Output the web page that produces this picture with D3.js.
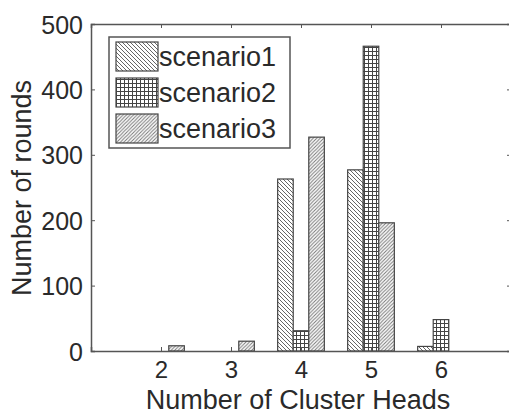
<!DOCTYPE html>
<html>
<head>
<meta charset="utf-8">
<script src="https://cdn.jsdelivr.net/npm/d3@7"></script>
<style>
body { margin: 0; background: #fff; }
svg text { font-family: "Liberation Sans", Arial, sans-serif; fill: #2a2a2a; }
</style>
</head>
<body>
<div id="chart"></div>
<script>
var categories = [2, 3, 4, 5, 6];
var seriesNames = ["scenario1", "scenario2", "scenario3"];
var scenario1 = [0, 0, 263, 277, 7];
var scenario2 = [0, 0, 31, 466, 48];
var scenario3 = [8, 15, 327, 196, 0];
var yTicks = [0, 100, 200, 300, 400, 500];

var W = 509, H = 414;
var mLeft = 91, mRight = 511, mTop = 24, mBottom = 351;
var frame = "#555";

var svg = d3.select("#chart").append("svg")
    .attr("width", W)
    .attr("height", H);

// hatch patterns
var defs = svg.append("defs");

function hatch(id, size, draw) {
    var p = defs.append("pattern")
        .attr("id", id)
        .attr("patternUnits", "userSpaceOnUse")
        .attr("width", size)
        .attr("height", size);
    p.append("rect").attr("width", size).attr("height", size).attr("fill", "#fff");
    draw(p, size);
}

hatch("p1", 4, function (p, s) {
    p.append("path").attr("d", "M0,0L" + s + "," + s + "M-1," + (s - 1) + "L1," + (s + 1) + "M" + (s - 1) + ",-1L" + (s + 1) + ",1")
        .attr("stroke", "#666").attr("stroke-width", 1);
});
hatch("p2", 4, function (p, s) {
    p.append("path").attr("d", "M0.5,0V" + s + "M0," + (s - 0.5) + "H" + s)
        .attr("stroke", "#444").attr("stroke-width", 1);
});
hatch("p3", 3.5, function (p, s) {
    p.append("path").attr("d", "M0," + s + "L" + s + ",0M-1,1L1,-1M" + (s - 1) + "," + (s + 1) + "L" + (s + 1) + "," + (s - 1))
        .attr("stroke", "#777").attr("stroke-width", 1);
});

var x = d3.scaleLinear().domain([1, 7]).range([mLeft, mRight]);
var y = d3.scaleLinear().domain([0, 500]).range([mBottom, mTop]);

var series = [scenario1, scenario2, scenario3];
var groupW = 3 / 4.5;
var barW = groupW / 3;

series.forEach(function (vals, si) {
    var rows = vals.map(function (v, i) { return { cat: categories[i], v: v }; })
        .filter(function (d) { return d.v > 0; });
    svg.append("g").selectAll("rect")
        .data(rows)
        .enter()
        .append("rect")
        .attr("x", function (d) { return x(d.cat + (si - 1) * barW - barW / 2); })
        .attr("y", function (d) { return y(d.v); })
        .attr("width", x(1 + barW) - x(1))
        .attr("height", function (d) { return y(0) - y(d.v); })
        .attr("fill", "url(#p" + (si + 1) + ")")
        .attr("stroke", "#444")
        .attr("stroke-width", 1.2);
});

// axes box
var xAxis = d3.axisBottom(x).tickValues(categories).tickSize(-4).tickPadding(10).tickFormat(d3.format("d"));
var yAxis = d3.axisLeft(y).tickValues(yTicks).tickSize(-4).tickPadding(8);

var gx = svg.append("g").attr("transform", "translate(0," + mBottom + ")").call(xAxis);
var gy = svg.append("g").attr("transform", "translate(" + mLeft + ",0)").call(yAxis);
svg.append("g").attr("transform", "translate(0," + mTop + ")")
    .call(d3.axisTop(x).tickValues(categories).tickSize(-4).tickFormat(""));
svg.append("g").attr("transform", "translate(" + mRight + ",0)")
    .call(d3.axisRight(y).tickValues(yTicks).tickSize(-4).tickFormat(""));

svg.selectAll(".domain").attr("stroke", frame).attr("stroke-width", 1.5);
svg.selectAll(".tick line").attr("stroke", frame);
gx.selectAll("text").style("font-size", "24px").attr("fill", "#2a2a2a");
gy.selectAll("text").style("font-size", "25px").attr("fill", "#2a2a2a").attr("dy", "0.36em");

svg.append("text")
    .attr("x", 298)
    .attr("y", 409)
    .attr("text-anchor", "middle")
    .style("font-size", "27px")
    .text("Number of Cluster Heads");

svg.append("text")
    .attr("transform", "translate(31,188) rotate(-90)")
    .attr("text-anchor", "middle")
    .style("font-size", "27px")
    .text("Number of rounds");

// legend
var leg = svg.append("g");
leg.append("rect")
    .attr("x", 109).attr("y", 37)
    .attr("width", 181).attr("height", 111)
    .attr("fill", "#fff").attr("stroke", frame).attr("stroke-width", 1.5);

seriesNames.forEach(function (name, i) {
    var yy = 42 + i * 36;
    leg.append("rect")
        .attr("x", 116).attr("y", yy)
        .attr("width", 42).attr("height", 29)
        .attr("fill", "url(#p" + (i + 1) + ")")
        .attr("stroke", "#444").attr("stroke-width", 1.2);
    leg.append("text")
        .attr("x", 159).attr("y", yy + 24)
        .style("font-size", "27px")
        .text(name);
});
</script>
</body>
</html>
